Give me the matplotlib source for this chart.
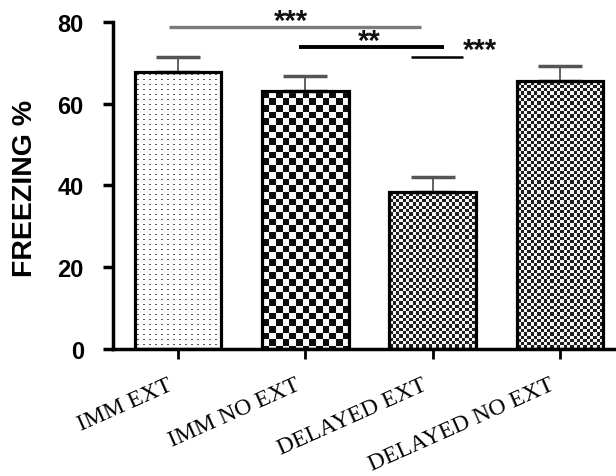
import numpy as np
import matplotlib
matplotlib.use("Agg")
import matplotlib.pyplot as plt
from matplotlib.transforms import ScaledTranslation

categories = ["IMM EXT", "IMM NO EXT", "DELAYED EXT", "DELAYED NO EXT"]
freezing = [67.7, 63.0, 38.3, 65.4]
err_top = [71.4, 66.7, 42.0, 69.1]
sem = [t - v for t, v in zip(err_top, freezing)]
yticks = [0, 20, 40, 60, 80]

# significance lines: (x_start, x_end, y, color, lw)
sig_lines = [(-0.07, 1.91, 78.8, "#7a7a7a", 2.4),
             (0.95, 2.09, 73.8, "black", 2.8),
             (1.83, 2.24, 71.4, "black", 1.8)]
# significance labels: (text, x, y)
sig_labels = [("***", 0.89, 78.3), ("**", 1.50, 73.4), ("***", 2.37, 71.1)]

fig = plt.figure(figsize=(6.16, 4.77), dpi=100)
ax = fig.add_axes([113/616, 1 - 350/477, 1 - 113/616, (350 - 22.7)/477])

x = np.arange(len(categories))
width = 0.68
ax.set_xlim(-0.51, 3.44)
ax.set_ylim(0, 80)

bars = ax.bar(x, freezing, width, facecolor="none", edgecolor="black",
              linewidth=2.3, zorder=3)

# textures inside bars
def texture(kind, w, h):
    r, c = np.indices((h, w))
    if kind == 0:
        a = np.ones((h, w))
        mask = ((r % 5) == 2) & ((c % 6) >= 2) & ((c % 6) < 4)
        a[mask] = 0.35
    elif kind == 1:
        a = (((c / 6.7).astype(int) + (r / 6.7).astype(int)) % 2).astype(float)
        a = 0.05 + 0.93 * a
    else:
        a = (((c / 3.3).astype(int) + (r / 3.3).astype(int)) % 2).astype(float)
        a = 0.12 + 0.83 * a
    return a

fig.canvas.draw()
for i, p in enumerate(bars.patches):
    bx, by = p.get_x(), p.get_y()
    bw, bh = p.get_width(), p.get_height()
    (px0, py0) = ax.transData.transform((bx, by))
    (px1, py1) = ax.transData.transform((bx + bw, by + bh))
    w = max(int(round(px1 - px0)), 1)
    h = max(int(round(py1 - py0)), 1)
    kind = 0 if i == 0 else (1 if i == 1 else 2)
    im = ax.imshow(texture(kind, w, h), extent=(bx, bx + bw, by, by + bh),
                   cmap="gray", vmin=0, vmax=1, interpolation="nearest",
                   aspect="auto", origin="upper", zorder=2)
    im.set_clip_path(p)

ax.set_xlim(-0.51, 3.44)
ax.set_ylim(0, 80)

eb = ax.errorbar(x, freezing, yerr=[np.zeros(len(sem)), sem], fmt="none",
                 ecolor="#555555", elinewidth=1.3, capsize=16, capthick=2.5,
                 zorder=2.5)
for cl in eb[1]:
    cl.set_color("black")

for x0, x1, yy, col, lw in sig_lines:
    ax.plot([x0, x1], [yy, yy], color=col, lw=lw, solid_capstyle="butt",
            clip_on=False, zorder=4)
for txt, lx, ly in sig_labels:
    ax.text(lx, ly, txt, ha="center", va="baseline", fontsize=21,
            fontweight="bold", family="Liberation Sans", color="#111111",
            zorder=5)

for s in ["top", "right"]:
    ax.spines[s].set_visible(False)
ax.spines["left"].set_linewidth(2.5)
ax.spines["bottom"].set_linewidth(2.5)

ax.set_yticks(yticks)
ax.set_yticklabels([str(t) for t in yticks], fontsize=17, fontweight="bold",
                   family="Liberation Sans")
ax.tick_params(axis="y", direction="out", length=7, width=2.5, pad=14)
ax.set_xticks(x)
ax.set_xticklabels(categories, rotation=24, ha="right", va="top",
                   rotation_mode="anchor", fontsize=17, family="Liberation Serif")
ax.tick_params(axis="x", direction="out", length=7, width=2, pad=11)
off = ScaledTranslation(-11/100, 0, fig.dpi_scale_trans)
for lab in ax.get_xticklabels():
    lab.set_transform(lab.get_transform() + off)

ax.set_ylabel("FREEZING %", fontsize=20.5, fontweight="bold",
              family="Liberation Sans")
ax.yaxis.set_label_coords(38/616, 1 - 188/477, transform=fig.transFigure)

fig.savefig("out.png", dpi=100)
